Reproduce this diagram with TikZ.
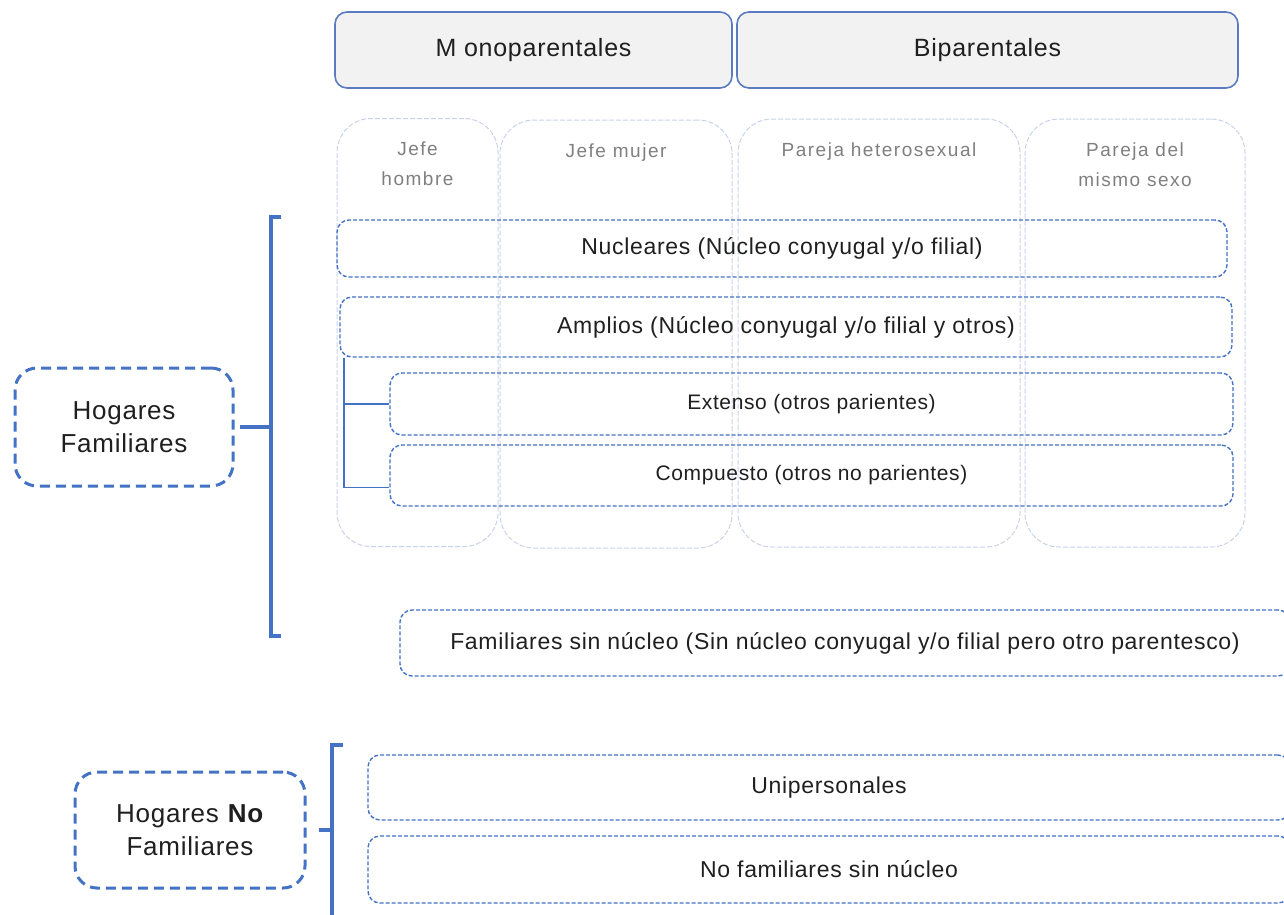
\documentclass[tikz,border=0pt]{standalone}
\usepackage{fontspec}
\setmainfont{Liberation Sans}[LetterSpace=3]
\newfontfamily\collabelfont[LetterSpace=8]{Liberation Sans}
\usetikzlibrary{positioning,calc}
\definecolor{boxblue}{HTML}{4472C4}
\definecolor{hdrline}{HTML}{5B7BC0}
\definecolor{hdrfill}{HTML}{F2F2F2}
\definecolor{colline}{HTML}{C9D3E8}
\definecolor{txtgray}{HTML}{1F1F1F}
\definecolor{labgray}{HTML}{7F7F7F}

\begin{document}
\begin{tikzpicture}[x=1pt,y=-1pt,
    hdrbox/.style={draw=hdrline, line width=1.6pt, fill=hdrfill, rounded corners=12pt,
      minimum height=76pt, font=\fontsize{25}{30}\selectfont, text=txtgray},
    colbox/.style={draw=colline, line width=1pt, dash pattern=on 5pt off 2pt,
      rounded corners=34pt, minimum height=428pt},
    collabel/.style={font=\collabelfont\fontsize{19}{30}\selectfont, text=labgray,
      align=center, inner sep=0pt},
    typebox/.style={draw=boxblue, line width=1.4pt, dash pattern=on 4pt off 2pt,
      rounded corners=12pt, font=\fontsize{23}{27}\selectfont, text=txtgray},
    groupbox/.style={draw=boxblue, line width=3pt, dash pattern=on 10pt off 6pt,
      rounded corners=22pt, font=\fontsize{26}{33}\selectfont, text=txtgray, align=center},
    bracket/.style={draw=boxblue, line width=3.2pt}]

  \useasboundingbox (0,0) rectangle (1284,914);
  \clip (0,0) rectangle (1284,914);

  %% headers
  \node [hdrbox, minimum width=397pt] (mono) at (533.5,50) {M onoparentales};
  \node [hdrbox, minimum width=501pt] (bipa) at (987.5,50) {Biparentales};

  %% columns
  \node [colbox, minimum width=161pt] (jh) at (417.5,332.5) {};
  \node [colbox, minimum width=232pt] (jm) at (616,334) {};
  \node [colbox, minimum width=282pt] (ph) at (879,333) {};
  \node [colbox, minimum width=220pt] (pm) at (1135,333) {};
  \node [collabel, below=24pt of jh.north] (jhl) {Jefe\\hombre};
  \node [collabel, below=24pt of jm.north] (jml) {Jefe mujer};
  \node [collabel, below=24pt of ph.north] (phl) {Pareja heterosexual};
  \node [collabel, below=24pt of pm.north] (pml) {Pareja del\\mismo sexo};

  %% hogares familiares
  \node [typebox, minimum width=890pt, minimum height=57pt] (nuc) at (782,248.5)
    {Nucleares (Núcleo conyugal y/o filial)};
  \node [typebox, minimum width=892pt, minimum height=60pt] (amp) at (786,327)
    {Amplios (Núcleo conyugal y/o filial y otros)};
  \node [typebox, minimum width=843pt, minimum height=62pt,
    font=\fontsize{21}{25}\selectfont] (ext) at (811.5,404) {Extenso (otros parientes)};
  \node [typebox, minimum width=843pt, minimum height=61pt,
    font=\fontsize{21}{25}\selectfont] (cmp) at (811.5,475.5) {Compuesto (otros no parientes)};
  \node [typebox, minimum width=890pt, minimum height=66pt] (fsn) at (845,643)
    {Familiares sin núcleo (Sin núcleo conyugal y/o filial pero otro parentesco)};

  \draw [bracket, line width=1.8pt] ($(amp.south west)+(5,0)$) |- (ext.west);
  \draw [bracket, line width=1.8pt] ($(amp.south west)+(5,0)$) |- ($(cmp.west)+(0,12)$);

  \node [groupbox, minimum width=218pt, minimum height=118pt] (hf) at (124,427)
    {Hogares\\Familiares};
  \coordinate (fbtop) at (271,217);
  \coordinate (fbbot) at (271,636);
  \draw [bracket, shorten <=5pt] (hf.east) -- (hf.east -| fbtop);
  \draw [bracket] ($(fbtop)+(10,0)$) -- (fbtop) -- (fbbot) -- ++(10,0);

  %% hogares no familiares
  \node [typebox, minimum width=922pt, minimum height=65pt] (uni) at (829,787.5)
    {Unipersonales};
  \node [typebox, minimum width=922pt, minimum height=67pt] (nfs) at (829,869.5)
    {No familiares sin núcleo};

  \node [groupbox, minimum width=230pt, minimum height=116pt] (hnf) at (190,830)
    {Hogares \textbf{No}\\Familiares};
  \coordinate (nbtop) at (332,745);
  \coordinate (nbbot) at (332,920);
  \draw [bracket, shorten <=12pt] (hnf.east) -- (hnf.east -| nbtop);
  \draw [bracket] ($(nbtop)+(11,0)$) -- (nbtop) -- (nbbot);

\end{tikzpicture}
\end{document}
